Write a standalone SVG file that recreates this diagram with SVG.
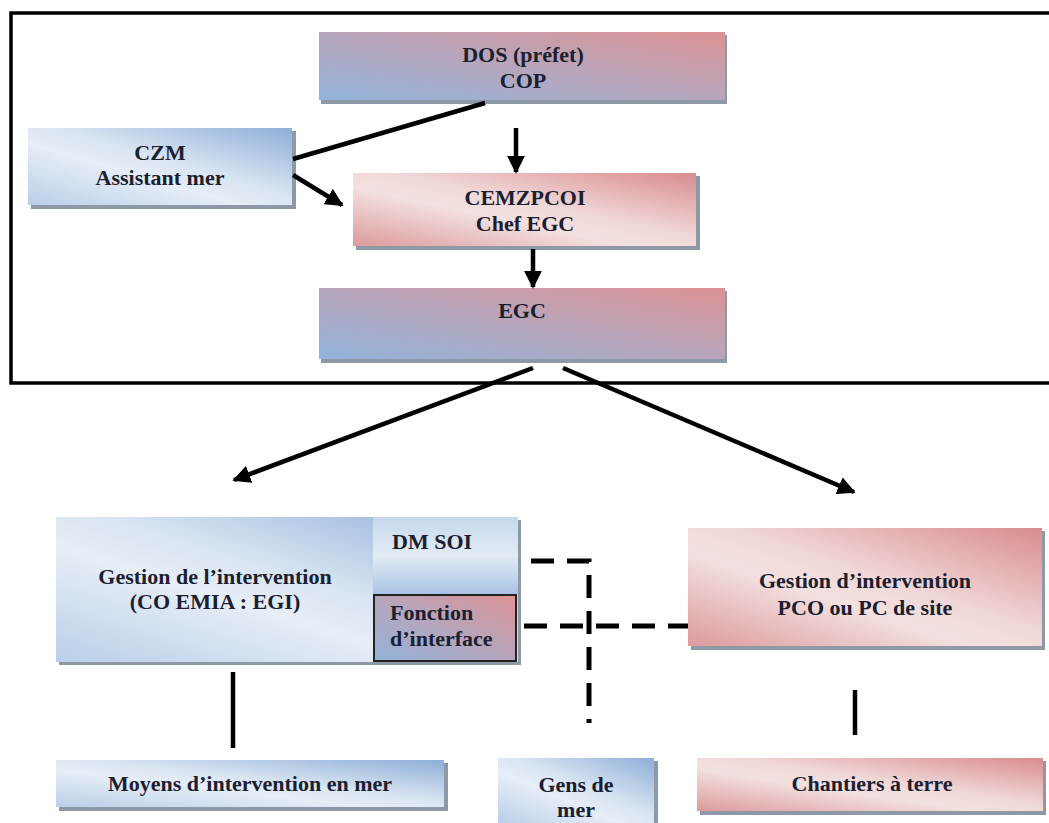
<svg xmlns="http://www.w3.org/2000/svg" width="1049" height="823" viewBox="0 0 1049 823">
<defs>
<linearGradient id="mix" x1="0" y1="1" x2="1" y2="0">
<stop offset="0" stop-color="#93b3da"/>
<stop offset="0.45" stop-color="#b3a7bf"/>
<stop offset="1" stop-color="#dd9394"/>
</linearGradient>
<linearGradient id="blue" x1="1" y1="0" x2="0" y2="1">
<stop offset="0" stop-color="#8eaed8"/>
<stop offset="0.45" stop-color="#d9e5f2"/>
<stop offset="0.6" stop-color="#e6eef7"/>
<stop offset="1" stop-color="#b9cee8"/>
</linearGradient>
<linearGradient id="red" x1="1" y1="0" x2="0" y2="1">
<stop offset="0" stop-color="#d98c8e"/>
<stop offset="0.45" stop-color="#f1d8d8"/>
<stop offset="0.6" stop-color="#f3e0e0"/>
<stop offset="1" stop-color="#dc9a9b"/>
</linearGradient>
<linearGradient id="dm" x1="0" y1="0" x2="0" y2="1">
<stop offset="0" stop-color="#c6d7ec"/>
<stop offset="0.5" stop-color="#e2ebf5"/>
<stop offset="1" stop-color="#a9c3e3"/>
</linearGradient>
<marker id="ah" viewBox="0 0 10 10" refX="9" refY="5" markerWidth="4" markerHeight="4" orient="auto" markerUnits="strokeWidth">
<path d="M0,0 L10,5 L0,10 z" fill="#000"/>
</marker>
<style>
.sh{fill:#8d99a7}
.t{font-family:"Liberation Serif","Times New Roman",serif;font-weight:bold;font-size:22px;fill:#1b2030;text-anchor:middle}
.tl{text-anchor:start}
.c{stroke:#000;stroke-width:4.5;fill:none}
.d{stroke:#000;stroke-width:5;fill:none;stroke-dasharray:23 13}
</style>
</defs>
<rect width="1049" height="823" fill="#fff"/>
<path d="M1052,13 H11 V383 H1052" fill="none" stroke="#000" stroke-width="3.5"/>

<g id="dos">
<rect class="sh" x="321" y="35" width="406" height="69"/>
<rect x="319" y="32" width="406" height="68" fill="url(#mix)"/>
<text class="t" x="523" y="62">DOS (préfet)</text>
<text class="t" x="523" y="88">COP</text>
</g>

<g id="czm">
<rect class="sh" x="31" y="131" width="265" height="78"/>
<rect x="28" y="128" width="264" height="77" fill="url(#blue)"/>
<text class="t" x="160" y="160">CZM</text>
<text class="t" x="160" y="185">Assistant mer</text>
</g>

<g id="cemzpcoi">
<rect class="sh" x="356" y="176" width="344" height="74"/>
<rect x="353" y="173" width="343" height="73" fill="url(#red)"/>
<text class="t" x="525" y="205">CEMZPCOI</text>
<text class="t" x="525" y="231">Chef EGC</text>
</g>

<g id="egc">
<rect class="sh" x="321" y="291" width="406" height="72"/>
<rect x="319" y="288" width="406" height="71" fill="url(#mix)"/>
<text class="t" x="522" y="318">EGC</text>
</g>

<g id="gestion-mer">
<rect class="sh" x="59" y="520" width="462" height="145"/>
<rect x="56" y="517" width="462" height="145" fill="url(#blue)"/>
<rect x="373" y="517" width="145" height="77" fill="url(#dm)"/>
<text class="t" x="215" y="584">Gestion de l’intervention</text>
<text class="t" x="215" y="609">(CO EMIA : EGI)</text>
<text class="t tl" x="392" y="549">DM SOI</text>
</g>

<g id="fonction">
<rect x="374" y="595" width="142" height="66" fill="url(#mix)" stroke="#222" stroke-width="2"/>
<text class="t tl" x="390" y="620">Fonction</text>
<text class="t tl" x="390" y="646">d’interface</text>
</g>

<g id="gestion-terre">
<rect class="sh" x="691" y="531" width="354" height="119"/>
<rect x="688" y="528" width="354" height="118" fill="url(#red)"/>
<text class="t" x="865" y="588">Gestion d’intervention</text>
<text class="t" x="865" y="615">PCO ou PC de site</text>
</g>

<g id="moyens">
<rect class="sh" x="59" y="763" width="389" height="48"/>
<rect x="56" y="760" width="388" height="47" fill="url(#blue)"/>
<text class="t" x="250" y="791">Moyens d’intervention en mer</text>
</g>

<g id="gens">
<rect class="sh" x="501" y="761" width="157" height="66"/>
<rect x="498" y="758" width="156" height="66" fill="url(#blue)"/>
<text class="t" x="576" y="792">Gens de</text>
<text class="t" x="576" y="817">mer</text>
</g>

<g id="chantiers">
<rect class="sh" x="700" y="761" width="346" height="54"/>
<rect x="697" y="758" width="346" height="53" fill="url(#red)"/>
<text class="t" x="872" y="791">Chantiers à terre</text>
</g>

<g id="connectors">
<line class="c" x1="516" y1="128" x2="516" y2="172" marker-end="url(#ah)"/>
<line class="c" x1="293" y1="159" x2="485" y2="103"/>
<line class="c" x1="293" y1="175" x2="342" y2="205" marker-end="url(#ah)"/>
<line class="c" x1="533" y1="249" x2="533" y2="287" marker-end="url(#ah)"/>
<line class="c" x1="533" y1="368" x2="234" y2="480" marker-end="url(#ah)"/>
<line class="c" x1="563" y1="368" x2="854" y2="492" marker-end="url(#ah)"/>
<path class="d" d="M531,561 H589 V723"/>
<line class="d" x1="524" y1="626" x2="688" y2="626"/>
<line class="c" x1="233" y1="672" x2="233" y2="748" stroke-width="5"/>
<line class="c" x1="855" y1="690" x2="855" y2="735" stroke-width="5"/>
</g>
</svg>
